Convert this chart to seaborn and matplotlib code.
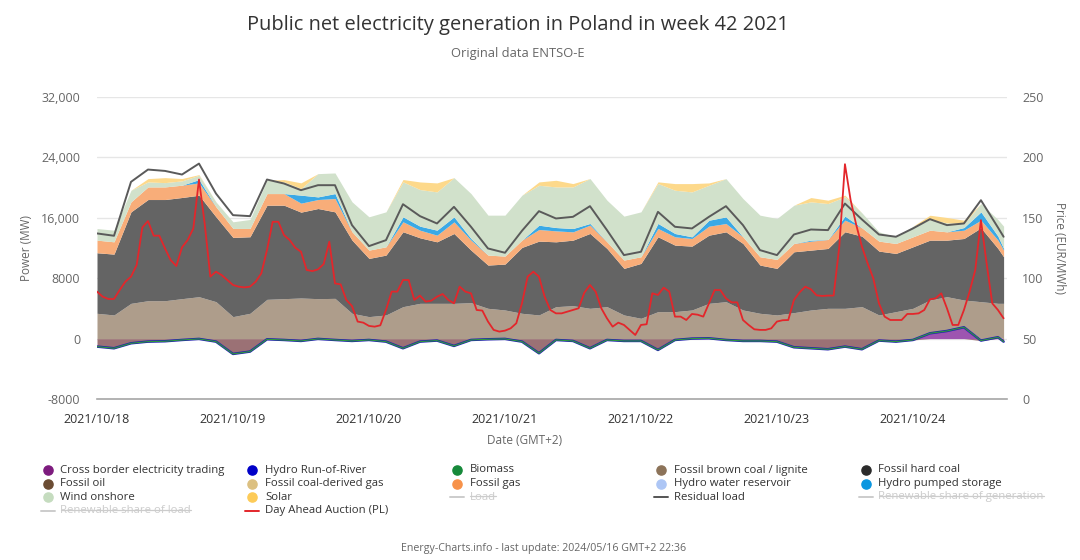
import numpy as np
import pandas as pd
import matplotlib
matplotlib.use("Agg")
import matplotlib.pyplot as plt
from matplotlib.lines import Line2D
import seaborn as sns

# ---------------- data (MW) ----------------
hours = list(range(0, 160, 3)) + [160]   # chart position in hours from 2021/10/18 00:00

cross_border = [-1060, -1280, -620, -400, -350, -180, -40, -400, -2030, -1720, -90, -180, -310, -40,
                -180, -310, -180, -400, -1280, -400, -260, -970, -180, -90, -40, -400, -1940,
                -180, -310, -1280, -180, -310, -310, -1500, -180, 0, 40, -180, -310, -310, -400,
                -1150, -1280, -1410, -1060, -1410, -260, -400, -180, 700, 1010, 1500, -260, 180, -400]
lignite = [3350, 3130, 4670, 5020, 5020, 5290, 5550, 4890, 2910, 3350, 5200, 5290, 5380, 5290,
           5330, 3350, 2910, 3130, 4230, 4670, 4670, 4670, 4760, 4010, 3790, 3350, 3130,
           4230, 4360, 4010, 4230, 3130, 2690, 3570, 3570, 3790, 4630, 4890, 3790, 3350, 3130,
           3440, 3790, 4010, 4010, 4230, 3130, 3570, 4010, 4410, 4540, 3610, 4890, 4490, 4670]
hard_coal = [8020, 8060, 12120, 13400, 13400, 13400, 13440, 11240, 10490, 10140, 12470, 12380, 11370, 11940,
             11460, 9700, 7710, 7930, 9920, 8680, 8150, 9250, 6960, 5730, 6080, 8730, 9780,
             8590, 8680, 9920, 7710, 6170, 7270, 9920, 8810, 8460, 9030, 9250, 8810, 6390, 6170,
             8060, 7930, 7930, 10140, 9340, 8460, 7710, 8150, 7930, 7490, 8150, 9780, 7270, 6170]
fossil_gas = [1670, 1630, 1320, 1670, 1670, 1630, 1630, 1320, 1190, 1100, 1540, 1540, 1190, 1190,
              1760, 1100, 1100, 1100, 1320, 1010, 880, 1540, 1320, 1320, 1060, 970, 1540,
              1450, 1100, 1100, 880, 1100, 880, 1100, 1100, 1010, 1190, 1100, 880, 1100, 1190,
              1100, 1190, 1190, 1540, 1100, 1320, 1320, 1320, 1320, 1100, 1100, 1010, 1100, 880]
pumped_storage = [0, 0, 0, 0, 0, 0, 440, 0, 0, 0, 0, 0, 1060, 350,
                  660, 0, 0, 0, 660, 530, 660, 660, 220, 0, 0, 0, 570,
                  440, 440, 220, 0, 0, 0, 660, 440, 220, 790, 880, 0, 0, 0,
                  0, 130, 0, 530, 0, 0, 0, 0, 0, 0, 350, 1100, 530, 220]
wind_onshore = [1540, 1540, 1540, 660, 570, 570, 570, 660, 880, 1190, 1760, 1540, 880, 3080,
                2730, 3970, 4410, 4630, 4630, 4850, 5070, 5200, 5950, 5290, 5420, 5950, 5290,
                5380, 5510, 5950, 5510, 5820, 5950, 5290, 5730, 5950, 4630, 5070, 5070, 5510, 5420,
                5070, 5070, 4760, 2560, 1980, 1230, 880, 1410, 1410, 1190, 530, 1100, 2200, 2950]
solar = [0, 0, 0, 440, 660, 310, 90, 0, 0, 0, 0, 310, 750, 0,
         0, 0, 0, 0, 310, 1010, 1190, 0, 0, 0, 0, 0, 440,
         880, 440, 0, 0, 0, 0, 220, 880, 1100, 310, 0, 0, 0, 0,
         0, 570, 440, 220, 0, 0, 0, 0, 570, 710, 440, 0, 0, 0]
residual_load = [13930, 13620, 20760, 22390, 22210, 21730, 23180, 19210, 16350, 16220, 21070, 20540, 19660, 20320,
                 20320, 15030, 12250, 13040, 17800, 16220, 15250, 17450, 14810, 11940, 11370, 14280, 16880,
                 15910, 16130, 17540, 14370, 11060, 11500, 16790, 14810, 14590, 16130, 17540, 15030, 11720, 11060,
                 13790, 14450, 14370, 17890, 15780, 13790, 13490, 14590, 15820, 15030, 15250, 18330, 14720, 13490]

price_hours = list(range(0, 161))
day_ahead_price = [
    88.9, 84.7, 82.8, 82.8, 90.2, 97.1, 101.3, 110.9, 142.0, 147.3,
    135.2, 135.2, 124.7, 115.0, 110.1, 125.5, 131.6, 141.2, 181.7, 145.4,
    101.3, 105.4, 102.6, 98.5, 94.4, 93.0, 92.4, 93.0, 97.1, 104.0,
    123.3, 146.7, 146.7, 135.7, 131.6, 125.2, 121.9, 106.8, 105.9, 107.3,
    111.7, 130.2, 95.7, 94.9, 82.0, 77.0, 64.1, 63.2, 60.5, 59.9,
    61.0, 73.7, 88.9, 88.9, 98.5, 98.5, 82.0, 85.6, 80.6, 81.4,
    84.7, 86.9, 82.0, 79.2, 93.0, 88.9, 87.5, 73.7, 73.2, 64.1,
    57.2, 55.8, 56.6, 58.5, 62.7, 79.2, 101.3, 105.4, 101.3, 84.7,
    73.7, 70.9, 70.9, 72.3, 73.7, 75.1, 88.0, 94.4, 88.9, 75.1,
    66.8, 59.9, 63.2, 61.3, 57.2, 53.0, 61.3, 61.9, 87.5, 86.1,
    92.2, 88.9, 68.2, 68.2, 65.4, 70.4, 69.8, 68.2, 79.2, 90.2,
    90.2, 83.3, 80.0, 80.0, 65.4, 61.3, 57.7, 57.2, 57.2, 58.5,
    64.1, 65.2, 65.4, 82.0, 88.3, 93.0, 90.8, 85.8, 85.3, 85.6,
    85.6, 126.1, 194.4, 164.7, 144.0, 126.1, 112.3, 99.9, 79.2, 68.2,
    65.4, 65.4, 65.4, 70.4, 70.4, 70.9, 73.7, 82.5, 83.3, 87.5,
    75.1, 61.3, 61.3, 73.7, 88.9, 106.8, 148.1, 112.3, 79.2, 73.7,
    66.8]

day_tick_hours = [0, 24, 48, 72, 96, 120, 144]
day_tick_labels = ["2021/10/18", "2021/10/19", "2021/10/20", "2021/10/21",
                   "2021/10/22", "2021/10/23", "2021/10/24"]
power_ticks = [-8000, 0, 8000, 16000, 24000, 32000]
power_tick_labels = ["-8000", "0", "8000", "16,000", "24,000", "32,000"]
price_ticks = [0, 50, 100, 150, 200, 250]
price_tick_labels = ["0", "50", "100", "150", "200", "250"]

legend_entries = [
    ("Cross border electricity trading", "dot", "#7d1b7e", False),
    ("Hydro Run-of-River", "dot", "#0000c8", False),
    ("Biomass", "dot", "#16893a", False),
    ("Fossil brown coal / lignite", "dot", "#8c7359", False),
    ("Fossil hard coal", "dot", "#2b2b2b", False),
    ("Fossil oil", "dot", "#6b4c33", False),
    ("Fossil coal-derived gas", "dot", "#dcc081", False),
    ("Fossil gas", "dot", "#f7924a", False),
    ("Hydro water reservoir", "dot", "#adc6f5", False),
    ("Hydro pumped storage", "dot", "#0a96e0", False),
    ("Wind onshore", "dot", "#c5dcbf", False),
    ("Solar", "dot", "#fdcb58", False),
    ("Load", "line", "#cccccc", True),
    ("Residual load", "line", "#555555", False),
    ("Renewable share of generation", "line", "#cccccc", True),
    ("Renewable share of load", "line", "#cccccc", True),
    ("Day Ahead Auction (PL)", "line", "#e3262b", False),
]

# ---------------- style ----------------
sns.set_theme(style="white")
plt.rcParams["font.family"] = ["Open Sans", "DejaVu Sans"]

W, H = 1080, 560
fig = plt.figure(figsize=(W / 100, H / 100), dpi=100)
fig.patch.set_facecolor("white")


def fx(px):
    return px / W


def fy(py):
    return 1 - py / H


ax = fig.add_axes([fx(97), fy(399), fx(1007) - fx(97), fy(97) - fy(399)])
ax.set_facecolor("white")

df = pd.DataFrame({
    "hour": hours, "cross": cross_border, "lignite": lignite, "hard_coal": hard_coal,
    "gas": fossil_gas, "pumped": pumped_storage, "wind": wind_onshore, "solar": solar,
    "residual": residual_load,
})
h = df["hour"].to_numpy(float)
cb = df["cross"].to_numpy(float)

# cross border trading (negative = export, positive = import)
ax.fill_between(h, 0, np.minimum(cb, 0), color="#9b7175", lw=0, zorder=2)
ax.fill_between(h, 0, np.maximum(cb, 0), color="#9d55b0", lw=0, zorder=2)

layers = [("lignite", "#ae9d8b"), ("hard_coal", "#646464"), ("gas", "#f8ad79"),
          ("pumped", "#3aa9e6"), ("wind", "#d1e1cb"), ("solar", "#fdd98b")]
base = np.maximum(cb, 0)
for name, col in layers:
    top = base + df[name].to_numpy(float)
    ax.fill_between(h, base, top, color=col, lw=0, zorder=2)
    base = top

# zero-valued hydro run-of-river / biomass outlines follow the trading stack edge
ax.plot(h, cb, color="#2020b0", lw=1.8, zorder=3)
ax.plot(h, cb, color="#2f9a3c", lw=0.8, zorder=3)

sns.lineplot(data=df, x="hour", y="residual", ax=ax, color="#5a5a5a", lw=1.4, zorder=4)

ax.set_xlim(0, 160.6)
ax.set_ylim(-8000, 32000)
ax.set_yticks(power_ticks)
ax.set_yticklabels(power_tick_labels)
ax.set_xticks(day_tick_hours)
ax.set_xticklabels(day_tick_labels)
ax.set_xlabel("")
ax.set_ylabel("")
for y in power_ticks[1:]:
    ax.axhline(y, color="#e6e6e6", lw=1, zorder=1)
for s in ["top", "left", "right"]:
    ax.spines[s].set_visible(False)
ax.spines["bottom"].set_color("#a6a6a6")
ax.spines["bottom"].set_linewidth(1.2)
ax.tick_params(axis="y", length=0, pad=12, labelsize=9, labelcolor="#666666")
ax.tick_params(axis="x", length=0, pad=10, labelsize=9, labelcolor="#333333")

ax2 = ax.twinx()
pdf = pd.DataFrame({"hour": price_hours, "price": day_ahead_price})
sns.lineplot(data=pdf, x="hour", y="price", ax=ax2, color="#e3262b", lw=1.3, zorder=5)
ax2.set_ylim(0, 250)
ax2.set_xlim(0, 160.6)
ax2.set_yticks(price_ticks)
ax2.set_yticklabels(price_tick_labels)
ax2.set_ylabel("")
ax2.grid(False)
for s in ["top", "left", "right", "bottom"]:
    ax2.spines[s].set_visible(False)
ax2.tick_params(axis="y", length=0, pad=11, labelsize=9, labelcolor="#666666")

# ---------------- texts ----------------
fig.text(fx(518), fy(25), "Public net electricity generation in Poland in week 42 2021",
         ha="center", va="center", fontsize=14.4, color="#333333")
fig.text(fx(518), fy(53), "Original data ENTSO-E", ha="center", va="center",
         fontsize=9.3, color="#666666")
fig.text(fx(27), fy(248), "Power (MW)", rotation=90, ha="center", va="center",
         fontsize=8.5, color="#666666")
fig.text(fx(1059), fy(248), "Price (EUR/MWh)", rotation=270, ha="center", va="center",
         fontsize=8.5, color="#666666")
fig.text(fx(525), fy(441), "Date (GMT+2)", ha="center", va="center",
         fontsize=8.5, color="#666666")
fig.text(fx(544), fy(549), "Energy-Charts.info - last update: 2024/05/16 GMT+2 22:36",
         ha="center", va="center", fontsize=7.7, color="#666666")

# ---------------- legend ----------------
col_x = [47.5, 252, 456.5, 661, 865.5]
row_y = [470, 483.5, 497, 510.5]
struck = []
for i, (label, kind, color, hidden) in enumerate(legend_entries):
    r, c = divmod(i, 5)
    x, y = col_x[c], row_y[r]
    if kind == "dot":
        fig.add_artist(Line2D([fx(x)], [fy(y)], marker="o", markersize=6.6, color=color,
                              linestyle="none", transform=fig.transFigure))
    else:
        fig.add_artist(Line2D([fx(x - 7), fx(x + 7)], [fy(y), fy(y)], color=color, lw=1.4,
                              transform=fig.transFigure))
    t = fig.text(fx(x + 13), fy(y), label, ha="left", va="center", fontsize=8.2,
                 color="#cccccc" if hidden else "#333333")
    if hidden:
        struck.append(t)

fig.canvas.draw()
renderer = fig.canvas.get_renderer()
for t in struck:
    bb = t.get_window_extent(renderer)
    ymid = bb.y0 + 0.56 * (bb.y1 - bb.y0)
    fig.add_artist(Line2D([bb.x0 / W, bb.x1 / W], [ymid / H, ymid / H], color="#cccccc",
                          lw=0.9, transform=fig.transFigure))

fig.savefig("out.png", dpi=100, facecolor="white")
